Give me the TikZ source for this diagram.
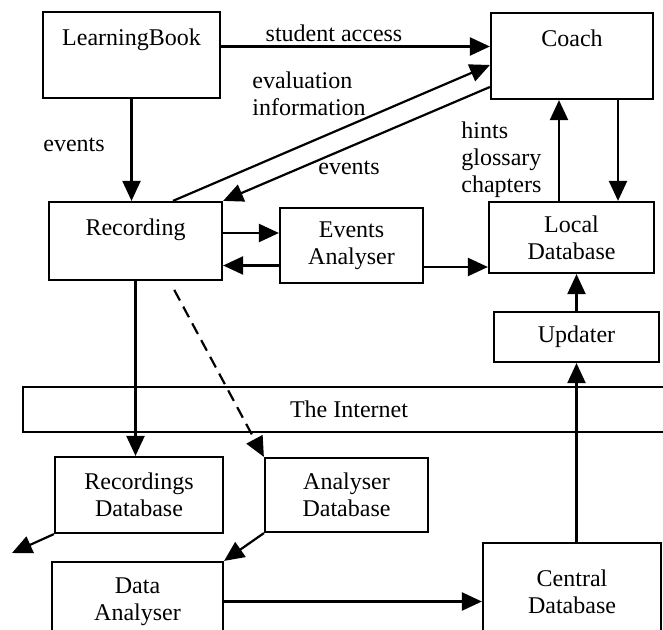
\documentclass[tikz,border=0pt]{standalone}
\usepackage{fontspec}
\setmainfont{Liberation Serif}
\usetikzlibrary{positioning, arrows.meta}

\begin{document}
\begin{tikzpicture}[x=0.5pt,y=-0.5pt,font=\fontsize{12pt}{13.5pt}\selectfont,
  box/.style={draw, line width=1.1pt, align=center, inner sep=0pt},
  topbox/.style={box, text height=17pt, text depth=#1},
  lbl/.style={inner sep=0pt, align=left},
  arr/.style={line width=1.1pt, -{Triangle[length=10pt,width=9pt]}}]

\useasboundingbox (0,0) rectangle (663,630);

% Boxes
\node[topbox=26pt, minimum width=88.5pt] (learningbook) at (131.5,55) {LearningBook};
\node[topbox=26pt, minimum width=81pt] (coach) at (572,56) {Coach};
\node[topbox=22pt, minimum width=86.5pt] (recording) at (135.5,241) {Recording};
\node[box, minimum width=71.5pt, minimum height=37.5pt] (events) at (351.5,245.5) {Events\\Analyser};
\node[box, minimum width=82.5pt, minimum height=35.5pt] (localdb) at (571.5,237.5) {Local\\Database};
\node[box, minimum width=82.5pt, minimum height=25pt] (updater) at (576.5,337) {Updater};
\node[box, minimum width=326pt, minimum height=22.5pt] (internet) at (349,409.5) {The Internet};
\node[box, minimum width=84pt, minimum height=38pt] (recdb) at (139,495) {Recordings\\Database};
\node[box, minimum width=81.5pt, minimum height=37pt] (anadb) at (346.5,495) {Analyser\\Database};
\node[box, minimum width=85.5pt, minimum height=39.5pt] (dataan) at (137.5,601.5) {Data\\Analyser};
\node[box, minimum width=89pt, minimum height=48.5pt] (centraldb) at (572,591.5) {Central\\Database};

% Labels
\node[lbl] (lblaccess) at (334,33) {student access};
\node[lbl, anchor=west] (lbleval) at (252,94) {evaluation\\information};
\node[lbl] (lblevents) at (74,145) {events};
\node[lbl] (lblback) at (349,168) {events};
\node[lbl, anchor=west] (lblhints) at (461,160) {hints\\glossary\\chapters};

% Arrows
\draw[arr] ([yshift=4.25pt]learningbook.east) -- ([yshift=4.25pt]learningbook.east -| coach.west);
\draw[arr] ([xshift=18.75pt]recording.north) -- ([yshift=-4.5pt]coach.west);
\draw[arr] ([yshift=-15.5pt]coach.west) -- (recording.north east);
\draw[arr] (learningbook.south) -- (learningbook.south |- recording.north);
\draw[arr] ([yshift=4pt]recording.east) -- ([yshift=4pt]recording.east -| events.west);
\draw[arr] ([yshift=-10pt]events.west) -- ([yshift=-10pt]events.west -| recording.east);
\draw[arr] ([yshift=-10.75pt]events.east) -- ([yshift=-10.75pt]events.east -| localdb.west);
\draw[arr] ([xshift=-6.25pt]localdb.north) -- ([xshift=-6.25pt]localdb.north |- coach.south);
\draw[arr] ([xshift=23pt]coach.south) -- ([xshift=23pt]coach.south |- localdb.north);
\draw[arr] (updater.north) -- (updater.north |- localdb.south);
\draw[arr] (updater.south |- centraldb.north) -- (updater.south);
\draw[arr] (recording.south) -- (recording.south |- recdb.north);
\draw[arr, dash pattern=on 6pt off 3.5pt, shorten <=5pt] ([xshift=17pt]recording.south) -- (anadb.north west);
\coordinate (recout) at (12,553);
\draw[arr] (recdb.south west) -- (recout);
\draw[arr] (anadb.south west) -- (dataan.north east);
\draw[arr] (dataan.east) -- (dataan.east -| centraldb.west);
\end{tikzpicture}
\end{document}
